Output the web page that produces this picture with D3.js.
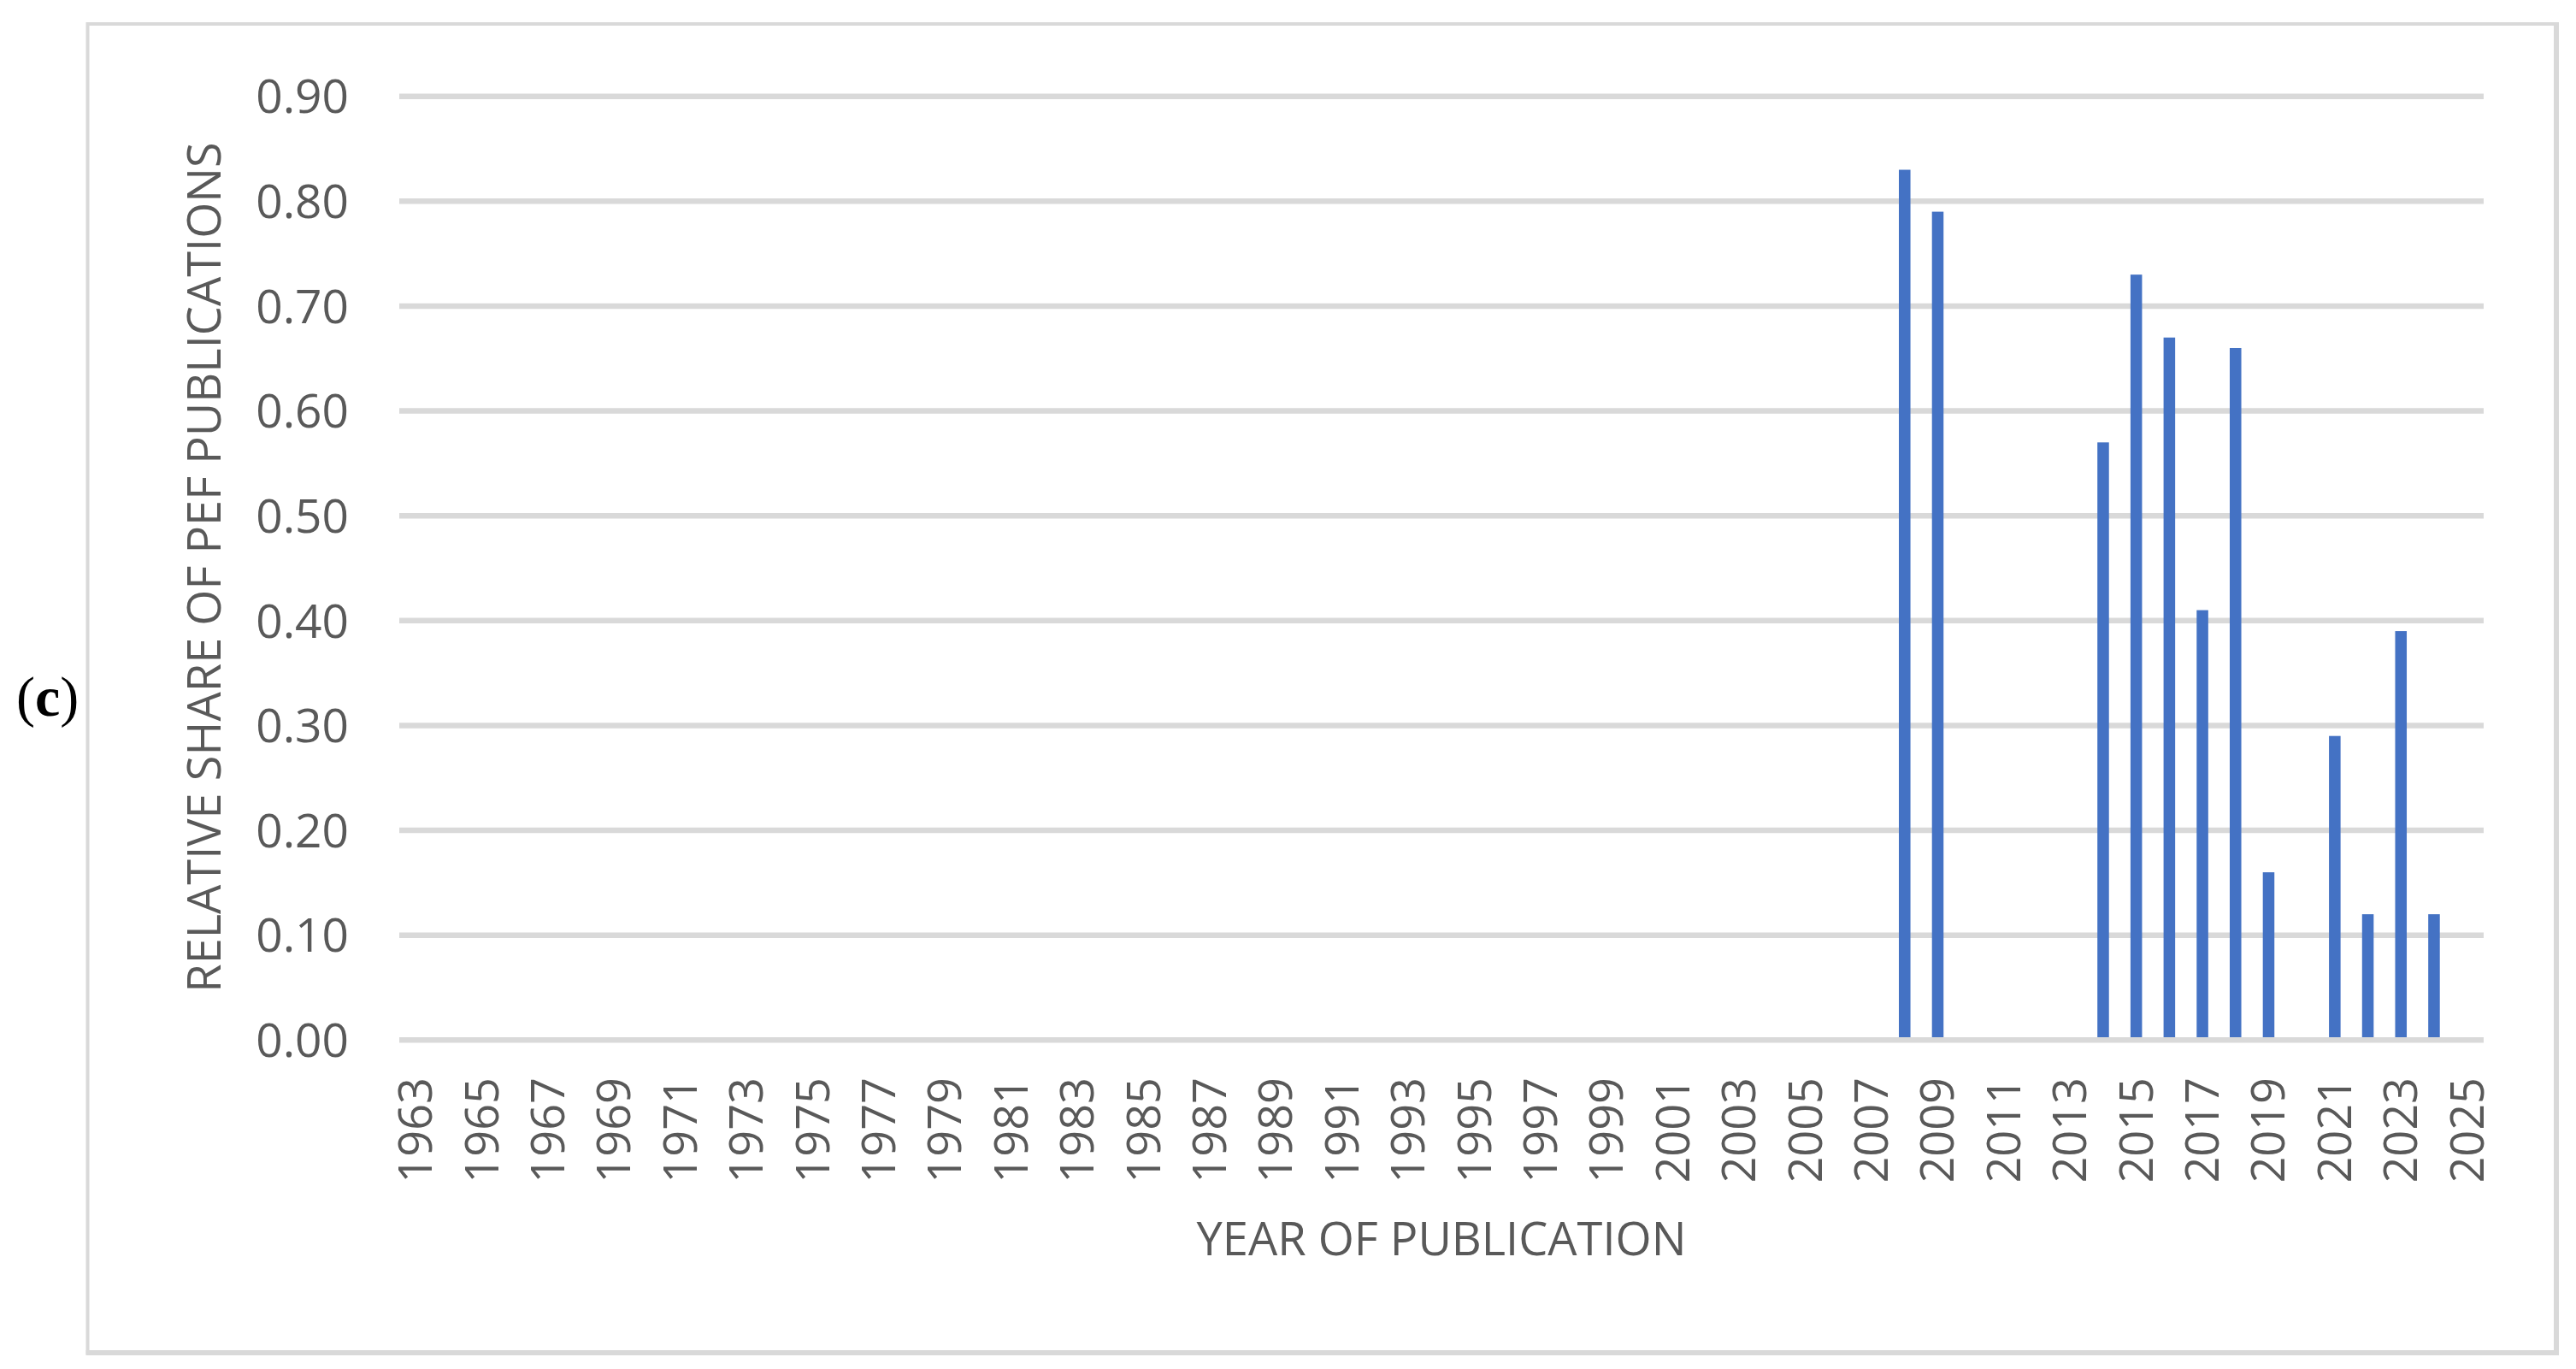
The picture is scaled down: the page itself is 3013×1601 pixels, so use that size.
<!DOCTYPE html>
<html>
<head>
<meta charset="utf-8">
<script src="https://cdn.jsdelivr.net/npm/d3@7"></script>
<style>
	html, body { margin: 0; padding: 0; background: #fff; }
	svg { display: block; }
</style>
</head>
<body>
<svg id="chart"></svg>
<script>
// categories on the x axis (one band per year)
var years = [1963, 1964, 1965, 1966, 1967, 1968, 1969, 1970, 1971, 1972, 1973, 1974, 1975, 1976, 1977, 1978,
	1979, 1980, 1981, 1982, 1983, 1984, 1985, 1986, 1987, 1988, 1989, 1990, 1991, 1992, 1993, 1994,
	1995, 1996, 1997, 1998, 1999, 2000, 2001, 2002, 2003, 2004, 2005, 2006, 2007, 2008, 2009, 2010,
	2011, 2012, 2013, 2014, 2015, 2016, 2017, 2018, 2019, 2020, 2021, 2022, 2023, 2024, 2025];
// only every other year gets a label
var tickYears = [1963, 1965, 1967, 1969, 1971, 1973, 1975, 1977, 1979, 1981, 1983, 1985, 1987, 1989, 1991, 1993,
	1995, 1997, 1999, 2001, 2003, 2005, 2007, 2009, 2011, 2013, 2015, 2017, 2019, 2021, 2023, 2025];
var yTicks = [0, 0.1, 0.2, 0.3, 0.4, 0.5, 0.6, 0.7, 0.8, 0.9];
// years that have a bar, and their relative share
var shareYears = [2008, 2009, 2014, 2015, 2016, 2017, 2018, 2019, 2021, 2022, 2023, 2024];
var shares = [0.83, 0.79, 0.57, 0.73, 0.67, 0.41, 0.66, 0.16, 0.29, 0.12, 0.39, 0.12];

var xTitle = 'YEAR OF PUBLICATION';
var yTitle = 'RELATIVE SHARE OF PEF PUBLICATIONS';
var panelLabel = 'c';

var W = 3013, H = 1601;
var plot = { left: 467, right: 2905, top: 112.7, bottom: 1216.3 };
var textColor = '#595959', gridColor = '#d9d9d9', barColor = '#4472c4';
var font = '"Open Sans", "Liberation Sans", sans-serif';

var svg = d3.select('#chart')
	.attr('width', W)
	.attr('height', H);

// outer chart frame
var frame = { x: 102.5, y: 28, r: 2990, b: 1582 };
svg.append('rect')
	.attr('x', frame.x).attr('y', frame.y)
	.attr('width', frame.r - frame.x).attr('height', frame.b - frame.y)
	.attr('fill', '#fff')
	.attr('stroke', gridColor)
	.attr('stroke-width', 4);
svg.append('line')
	.attr('x1', frame.r).attr('x2', frame.r)
	.attr('y1', frame.y - 2).attr('y2', frame.b + 3)
	.attr('stroke', gridColor).attr('stroke-width', 6);
svg.append('line')
	.attr('x1', frame.x - 2).attr('x2', frame.r + 3)
	.attr('y1', frame.b).attr('y2', frame.b)
	.attr('stroke', gridColor).attr('stroke-width', 6);

var x = d3.scaleBand()
	.domain(years)
	.range([plot.left, plot.right])
	.paddingInner(0.65)
	.paddingOuter(0.325);

var y = d3.scaleLinear()
	.domain([0, 0.9])
	.range([plot.bottom, plot.top]);

// gridlines
var grid = svg.append('g');
grid.selectAll('line')
	.data(yTicks.filter(function(d) { return d > 0; }))
	.enter().append('line')
	.attr('x1', plot.left).attr('x2', plot.right)
	.attr('y1', function(d) { return y(d); })
	.attr('y2', function(d) { return y(d); })
	.attr('stroke', gridColor)
	.attr('stroke-width', 6.5);

// bars
var bars = shareYears.map(function(yr, i) { return { year: yr, value: shares[i] }; });
svg.append('g').selectAll('rect')
	.data(bars)
	.enter().append('rect')
	.attr('x', function(d) { return x(d.year); })
	.attr('width', x.bandwidth())
	.attr('y', function(d) { return y(d.value); })
	.attr('height', function(d) { return y(0) - y(d.value); })
	.attr('fill', barColor);

// zero line sits over the bar feet
svg.append('line')
	.attr('x1', plot.left).attr('x2', plot.right)
	.attr('y1', y(0)).attr('y2', y(0))
	.attr('stroke', gridColor)
	.attr('stroke-width', 6.5);

// y axis labels
var yAxis = d3.axisLeft(y)
	.tickValues(yTicks)
	.tickFormat(d3.format('.2f'))
	.tickSize(0)
	.tickPadding(0);
var gy = svg.append('g')
	.attr('transform', 'translate(408,0)')
	.call(yAxis);
gy.select('.domain').remove();
gy.selectAll('text')
	.attr('font-family', font)
	.attr('font-size', 55)
	.attr('fill', textColor)
	.attr('dy', '0.35em');

// x axis labels, rotated
var xAxis = d3.axisBottom(x)
	.tickValues(tickYears)
	.tickSize(0)
	.tickPadding(0);
var gx = svg.append('g')
	.attr('transform', 'translate(0,1260)')
	.call(xAxis);
gx.select('.domain').remove();
gx.selectAll('text')
	.attr('font-family', font)
	.attr('font-size', 54)
	.attr('fill', textColor)
	.attr('text-anchor', 'end')
	.attr('transform', 'rotate(-90)')
	.attr('x', 0)
	.attr('y', 0)
	.attr('dy', '0.35em');

// axis titles, sized to the span they take in the original
var fitText = function(sel, len) {
	var l = sel.node().getComputedTextLength();
	sel.attr('font-size', 56 * len / l);
};

var xt = svg.append('text')
	.attr('x', (plot.left + plot.right) / 2)
	.attr('y', 1468)
	.attr('text-anchor', 'middle')
	.attr('font-family', font)
	.attr('font-size', 56)
	.attr('fill', textColor)
	.text(xTitle);
fitText(xt, 573);

var yt = svg.append('text')
	.attr('transform', 'translate(258,' + ((plot.top + plot.bottom) / 2 - 1) + ') rotate(-90)')
	.attr('text-anchor', 'middle')
	.attr('font-family', font)
	.attr('font-size', 56)
	.attr('fill', textColor)
	.text(yTitle);
fitText(yt, 995);

// panel label
var pl = svg.append('text')
	.attr('x', 19)
	.attr('y', 837)
	.attr('font-family', '"Liberation Serif", "DejaVu Serif", serif')
	.attr('font-size', 66)
	.attr('fill', '#000');
pl.append('tspan').text('(');
pl.append('tspan').attr('font-weight', 'bold').text(panelLabel);
pl.append('tspan').text(')');
</script>
</body>
</html>
